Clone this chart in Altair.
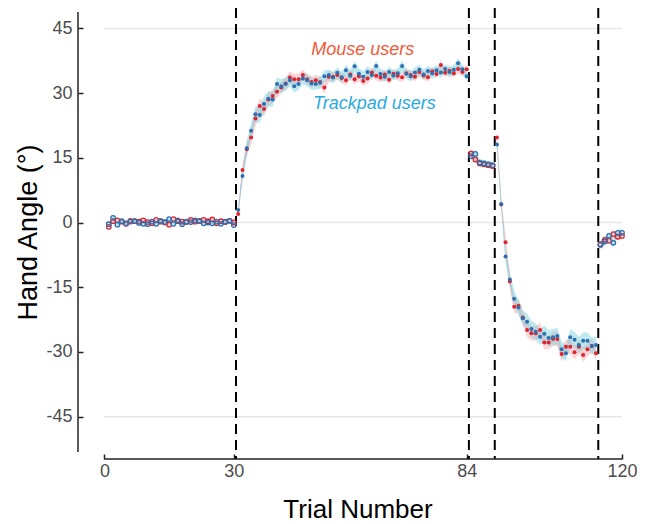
import altair as alt
import pandas as pd

# ---------------- data ----------------
block_names = ["base", "rot", "nf1", "rev", "nf2"]
block_starts = [1, 31, 85, 91, 115]
no_feedback_blocks = ["base", "nf1", "nf2"]

mouse_base = [-1.0, 0.3, 0.5, 0.2, -0.3, 0.4, 0.3, 0.2, 0.5, 0.1,
              -0.2, 0.6, 0.2, 0.0, -0.5, 0.8, 0.3, 0.2, 0.1, 0.6,
              0.2, 0.4, 0.6, 0.3, 0.7, -0.2, 0.3, 0.1, 0.4, 0.0]
trackpad_base = [-0.4, 1.1, -0.5, 0.3, -0.2, 0.2, 0.3, -0.1, -0.3, -0.4,
                 0.2, -0.3, 0.4, 0.1, 0.8, -0.3, 0.5, -0.4, 0.2, 0.1,
                 0.5, 0.3, -0.2, 0.0, -0.2, 0.2, -0.3, 0.2, 0.4, -0.6]

mouse_rot = [2.0, 12.2, 17.0, 19.7, 24.1, 27.0, 26.3, 28.5, 29.3, 30.3,
             31.3, 32.2, 33.6, 33.2, 33.2, 34.2, 33.2, 32.6, 33.0, 32.6,
             31.3, 33.8, 33.8, 34.2, 33.5, 33.0, 34.3, 33.2, 33.9, 32.8,
             33.4, 34.8, 34.0, 33.6, 34.3, 33.1, 34.5, 34.0, 33.7, 34.6,
             34.2, 33.8, 34.9, 34.1, 33.7, 35.0, 34.4, 36.5, 34.7, 35.2,
             34.6, 35.6, 34.9, 35.5]
trackpad_rot = [2.9, 10.8, 17.2, 21.3, 25.1, 24.9, 27.5, 28.7, 28.5, 32.1,
                31.6, 32.1, 33.0, 31.6, 32.1, 33.4, 33.0, 32.2, 32.1, 32.4,
                33.9, 34.2, 33.6, 34.7, 33.7, 35.3, 34.0, 36.2, 34.5, 33.8,
                34.9, 34.2, 36.3, 34.4, 33.8, 34.9, 34.1, 34.6, 36.3, 34.5,
                33.9, 34.8, 35.4, 34.3, 35.1, 34.6, 35.3, 34.8, 35.6, 34.9,
                35.4, 36.9, 35.5, 33.9]

mouse_nf1 = [16.0, 14.6, 13.7, 13.5, 13.3, 13.1]
trackpad_nf1 = [15.4, 15.9, 13.9, 13.7, 13.5, 13.3]

mouse_rev = [19.7, 4.2, -4.6, -13.7, -19.5, -19.3, -22.0, -24.9, -25.7, -25.7,
             -24.9, -27.8, -27.8, -27.0, -27.0, -30.5, -28.8, -28.8, -30.1, -28.8,
             -30.7, -29.4, -28.6, -30.3]
trackpad_rev = [18.1, 4.3, -7.9, -13.2, -17.7, -19.7, -22.2, -23.0, -24.7, -25.3,
                -26.5, -25.8, -26.8, -26.6, -26.3, -29.4, -30.3, -26.6, -27.2, -28.4,
                -27.4, -27.4, -28.6, -28.4]

mouse_nf2 = [-5.0, -4.0, -4.2, -2.7, -3.3, -3.1]
trackpad_nf2 = [-5.2, -4.4, -3.1, -4.7, -2.4, -2.4]

# standard errors (ribbon half-widths)
mouse_se_base = [0.6, 0.5, 0.5, 0.4, 0.5, 0.4, 0.4, 0.5, 0.4, 0.4,
                 0.5, 0.4, 0.4, 0.5, 0.5, 0.5, 0.4, 0.4, 0.4, 0.4,
                 0.4, 0.5, 0.4, 0.4, 0.5, 0.4, 0.4, 0.4, 0.5, 0.5]
trackpad_se_base = [0.5, 0.5, 0.5, 0.5, 0.4, 0.5, 0.4, 0.4, 0.5, 0.4,
                    0.4, 0.5, 0.4, 0.4, 0.5, 0.4, 0.5, 0.4, 0.4, 0.5,
                    0.4, 0.4, 0.5, 0.4, 0.4, 0.5, 0.4, 0.4, 0.4, 0.5]
mouse_se_rot = [0.8, 1.4, 1.6, 1.7, 1.8, 1.7, 1.6, 1.6, 1.5, 1.5,
                1.4, 1.4, 1.4, 1.3, 1.3, 1.3, 1.2, 1.3, 1.2, 1.3,
                1.4, 1.2, 1.2, 1.1, 1.2, 1.2, 1.1, 1.2, 1.1, 1.1,
                1.2, 1.1, 1.1, 1.1, 1.2, 1.1, 1.0, 1.1, 1.1, 1.0,
                1.1, 1.0, 1.1, 1.0, 1.0, 1.1, 1.0, 1.1, 1.0, 1.0,
                1.0, 1.0, 1.0, 1.0]
trackpad_se_rot = [1.0, 1.6, 1.8, 1.9, 1.9, 1.8, 1.8, 1.7, 1.7, 1.6,
                   1.6, 1.5, 1.5, 1.5, 1.4, 1.4, 1.4, 1.4, 1.3, 1.4,
                   1.4, 1.3, 1.3, 1.3, 1.3, 1.3, 1.3, 1.3, 1.2, 1.3,
                   1.3, 1.2, 1.2, 1.3, 1.2, 1.2, 1.2, 1.2, 1.2, 1.2,
                   1.2, 1.2, 1.2, 1.2, 1.2, 1.2, 1.2, 1.2, 1.1, 1.2,
                   1.2, 1.2, 1.2, 1.2]
mouse_se_nf1 = [0.9, 0.8, 0.7, 0.7, 0.7, 0.7]
trackpad_se_nf1 = [1.0, 0.9, 0.8, 0.8, 0.8, 0.8]
mouse_se_rev = [0.6, 1.0, 1.3, 1.5, 1.6, 1.6, 1.6, 1.7, 1.7, 1.7,
                1.7, 1.7, 1.6, 1.6, 1.7, 1.6, 1.7, 1.6, 1.7, 1.6,
                1.7, 1.6, 1.6, 1.6]
trackpad_se_rev = [0.6, 1.1, 1.5, 1.7, 1.8, 1.8, 1.8, 1.9, 1.9, 1.9,
                   1.9, 1.9, 1.9, 1.9, 1.9, 1.9, 1.9, 1.9, 1.9, 1.9,
                   1.9, 1.9, 1.9, 1.9]
mouse_se_nf2 = [0.9, 0.9, 0.8, 0.8, 0.8, 0.8]
trackpad_se_nf2 = [1.0, 1.0, 0.9, 0.9, 0.9, 0.9]

dash_x = [30.5, 84.5, 90.5, 114.5]
grid_y = [-45, 0, 45]
x_ticks = [0, 30, 84, 120]
y_ticks = [-45, -30, -15, 0, 15, 30, 45]
groups = ["Mouse users", "Trackpad users"]
point_colors = ["#e0242f", "#2f6eaf"]
ribbon_colors = ["#f7a3a8", "#74cfdb"]
label_x = [59.9, 62.6]
label_y = [40.0, 27.5]
label_colors = ["#f2593a", "#2aaae2"]

# ---------------- build table ----------------
series = {
    "Mouse users": ([mouse_base, mouse_rot, mouse_nf1, mouse_rev, mouse_nf2],
                    [mouse_se_base, mouse_se_rot, mouse_se_nf1, mouse_se_rev, mouse_se_nf2]),
    "Trackpad users": ([trackpad_base, trackpad_rot, trackpad_nf1, trackpad_rev, trackpad_nf2],
                       [trackpad_se_base, trackpad_se_rot, trackpad_se_nf1, trackpad_se_rev, trackpad_se_nf2]),
}
rows = []
for gi, (g, (vals, ses)) in enumerate(series.items()):
    for bname, start, v, s in zip(block_names, block_starts, vals, ses):
        for i, (val, se) in enumerate(zip(v, s)):
            rows.append({"trial": start + i, "angle": val, "lo": val - se, "hi": val + se,
                         "group": g, "block": bname, "series": g + bname,
                         "pc": point_colors[gi], "rc": ribbon_colors[gi],
                         "nf": bname in no_feedback_blocks})
df = pd.DataFrame(rows)

FONT = "Liberation Sans"
x_scale = alt.Scale(domain=[-6.14, 123.48], nice=False, zero=False)
y_scale = alt.Scale(domain=[-53.2, 48.8], nice=False, zero=False)
x_axis = alt.Axis(values=x_ticks, domain=False, grid=False, tickSize=5, tickWidth=1.5,
                  tickColor="#222222", offset=2, labelPadding=3, labelFontSize=18,
                  labelColor="#4d4d4d", labelFont=FONT, title="Trial Number",
                  titleFont=FONT, titleFontSize=26, titleFontWeight="normal",
                  titleColor="black", titlePadding=16)
y_axis = alt.Axis(values=y_ticks, domain=False, grid=False, tickSize=5, tickWidth=1.5,
                  tickColor="#222222", offset=-5, labelPadding=6, labelFontSize=18,
                  labelColor="#4d4d4d", labelFont=FONT,
                  labelExpr="datum.value < 0 ? '-' + abs(datum.value) : '' + datum.value",
                  title="Hand Angle (°)",
                  titleFont=FONT, titleFontSize=27, titleFontWeight="normal",
                  titleColor="black", titlePadding=3)

X = lambda f: alt.X(f, type="quantitative", scale=x_scale, axis=x_axis)
Y = lambda f: alt.Y(f, type="quantitative", scale=y_scale, axis=y_axis)

base = alt.Chart(df)

grid = alt.Chart(pd.DataFrame({"gy": grid_y, "x0": [0] * 3, "x1": [120] * 3})).mark_rule(
    color="#e6e6e6", strokeWidth=1.5).encode(x=X("x0"), x2="x1", y=Y("gy"))

ribbons = base.mark_area(opacity=0.45).encode(
    x=X("trial"), y=Y("lo"), y2="hi", color=alt.Color("rc:N", scale=None),
    detail="series:N")
lines = base.mark_line(strokeWidth=0.7, opacity=0.6).encode(
    x=X("trial"), y=Y("angle"), color=alt.Color("rc:N", scale=None), detail="series:N")

filled_pts = base.transform_filter("!datum.nf").mark_circle(size=16, opacity=1).encode(
    x=X("trial"), y=Y("angle"), color=alt.Color("pc:N", scale=None))
open_pts = base.transform_filter("datum.nf").mark_point(size=20, filled=False, strokeWidth=1.3,
                                                         opacity=1).encode(
    x=X("trial"), y=Y("angle"), color=alt.Color("pc:N", scale=None))

vlines = alt.Chart(pd.DataFrame({"dx": dash_x})).mark_rule(
    color="black", strokeWidth=2, strokeDash=[10, 6]).encode(
    x=X("dx"), y=alt.value(-4), y2=alt.value(447))

xaxis_line = alt.Chart(pd.DataFrame({"a": [0], "b": [120]})).mark_rule(
    color="#222222", strokeWidth=1.5).encode(x=X("a"), x2="b", y=alt.value(447))
yaxis_line = alt.Chart(pd.DataFrame({"a": [0]})).mark_rule(
    color="#222222", strokeWidth=1.5).encode(x=alt.value(0), y=alt.value(0), y2=alt.value(440))

labels = alt.Chart(pd.DataFrame({"lx": label_x, "ly": label_y, "txt": groups,
                                 "c": label_colors})).mark_text(
    font=FONT, fontSize=18, fontStyle="italic", align="center", baseline="middle").encode(
    x=X("lx"), y=Y("ly"), text="txt:N", color=alt.Color("c:N", scale=None))

chart = alt.layer(grid, ribbons, lines, vlines, filled_pts, open_pts, labels,
                  xaxis_line, yaxis_line).properties(
    width=559, height=440,
    autosize=alt.AutoSizeParams(type="none"),
    padding={"left": 70, "top": 4, "right": 0, "bottom": 80},
).configure_view(stroke=None)

chart.save("out.html", embed_options={"renderer": "svg", "actions": False})
